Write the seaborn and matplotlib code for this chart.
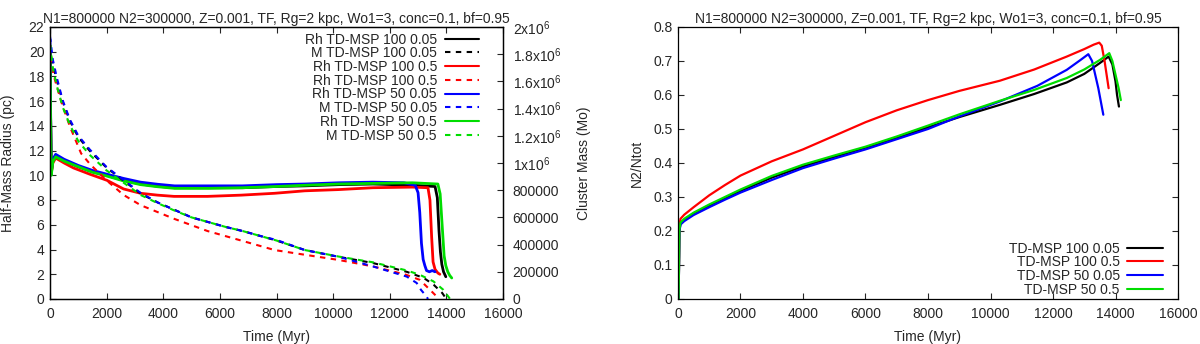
import numpy as np
import pandas as pd
import matplotlib
matplotlib.use("Agg")
import matplotlib.pyplot as plt
from matplotlib.lines import Line2D
import seaborn as sns

# ---------------- data ----------------
title = "N1=800000 N2=300000, Z=0.001, TF, Rg=2 kpc, Wo1=3, conc=0.1, bf=0.95"

# Half-mass radius (pc) vs time (Myr)
rh_t_100_005 = [0, 20, 45, 100, 200, 500, 1000, 1500, 2000, 2600, 3200, 3800, 4400, 5600, 6800, 8000, 9000, 10200, 11400, 12800, 13600, 13680, 13740, 13790, 13840, 13900, 13980]
rh_v_100_005 = [20.0, 15.0, 10.2, 11.2, 11.55, 11.2, 10.7, 10.3, 10.0, 9.6, 9.3, 9.12, 9.0, 9.0, 9.0, 9.1, 9.15, 9.25, 9.3, 9.2, 9.1, 8.2, 5.5, 3.8, 2.8, 2.2, 1.8]

rh_t_100_05 = [0, 20, 45, 100, 200, 500, 830, 1400, 2010, 2600, 3200, 3800, 4380, 5560, 6750, 7930, 9000, 10200, 11400, 12800, 13350, 13420, 13480, 13530, 13600, 13700, 13770]
rh_v_100_05 = [20.5, 15.0, 10.2, 11.0, 11.4, 11.0, 10.6, 10.1, 9.6, 8.9, 8.55, 8.4, 8.3, 8.3, 8.4, 8.55, 8.75, 8.85, 9.0, 9.05, 9.0, 8.0, 5.0, 3.0, 2.4, 2.1, 2.0]

rh_t_50_005 = [0, 20, 45, 100, 200, 500, 1000, 1500, 2000, 2600, 3200, 3800, 4400, 5600, 6800, 8000, 9000, 10200, 11400, 12500, 12900, 13000, 13060, 13120, 13180, 13240, 13300, 13400, 13500, 13600]
rh_v_50_005 = [21.0, 15.5, 10.3, 11.3, 11.7, 11.3, 10.8, 10.4, 10.1, 9.75, 9.45, 9.28, 9.15, 9.15, 9.15, 9.25, 9.3, 9.4, 9.45, 9.4, 9.2, 8.6, 7.0, 4.5, 3.2, 2.7, 2.3, 2.2, 2.3, 2.2]

rh_t_50_05 = [0, 20, 45, 100, 200, 500, 1000, 1500, 2000, 2600, 3200, 3800, 4400, 5600, 6800, 8000, 9000, 10200, 11400, 12800, 13700, 13780, 13850, 13920, 13980, 14050, 14120, 14190]
rh_v_50_05 = [20.5, 15.0, 10.0, 11.1, 11.5, 11.15, 10.7, 10.25, 9.95, 9.55, 9.25, 9.08, 8.95, 8.95, 9.0, 9.1, 9.2, 9.3, 9.35, 9.4, 9.3, 8.5, 6.0, 3.5, 2.7, 2.2, 1.9, 1.7]

# Cluster mass (Mo) vs time (Myr)
m_t_100_005 = [0, 100, 250, 450, 700, 1000, 1400, 2000, 2600, 3200, 3800, 4400, 5000, 5600, 6200, 6800, 7400, 8000, 9000, 10200, 11400, 12600, 13200, 13550, 13850, 14000]
m_v_100_005 = [1.85e6, 1.73e6, 1.60e6, 1.45e6, 1.31e6, 1.19e6, 1.09e6, 0.965e6, 0.87e6, 0.775e6, 0.71e6, 0.655e6, 0.60e6, 0.565e6, 0.53e6, 0.50e6, 0.465e6, 0.43e6, 0.36e6, 0.31e6, 0.265e6, 0.20e6, 0.155e6, 0.105e6, 0.045e6, 0.0]

m_t_100_05 = [0, 120, 400, 700, 1100, 1420, 2010, 2600, 3200, 4380, 5560, 6750, 7930, 9010, 10200, 11400, 12580, 13060, 13420, 13660, 13700]
m_v_100_05 = [1.86e6, 1.65e6, 1.45e6, 1.27e6, 1.07e6, 0.99e6, 0.87e6, 0.765e6, 0.69e6, 0.59e6, 0.50e6, 0.43e6, 0.36e6, 0.325e6, 0.287e6, 0.24e6, 0.178e6, 0.141e6, 0.068e6, 0.018e6, 0.0]

m_t_50_005 = [0, 100, 250, 450, 700, 1000, 1400, 2000, 2600, 3200, 3800, 4400, 5000, 5600, 6200, 6800, 7400, 8000, 9000, 10200, 11400, 12600, 12950, 13100, 13300, 13350]
m_v_50_005 = [1.93e6, 1.76e6, 1.62e6, 1.46e6, 1.32e6, 1.20e6, 1.10e6, 0.97e6, 0.875e6, 0.78e6, 0.71e6, 0.655e6, 0.60e6, 0.565e6, 0.53e6, 0.50e6, 0.465e6, 0.434e6, 0.36e6, 0.31e6, 0.24e6, 0.165e6, 0.118e6, 0.068e6, 0.018e6, 0.0]

m_t_50_05 = [0, 100, 250, 450, 700, 1000, 1400, 2000, 2600, 3200, 3800, 4400, 5000, 5600, 6200, 6800, 7400, 8000, 9000, 10200, 11400, 12600, 13060, 13540, 13890, 14130]
m_v_50_05 = [1.87e6, 1.70e6, 1.56e6, 1.41e6, 1.28e6, 1.16e6, 1.06e6, 0.945e6, 0.855e6, 0.765e6, 0.705e6, 0.65e6, 0.60e6, 0.565e6, 0.53e6, 0.50e6, 0.465e6, 0.43e6, 0.36e6, 0.312e6, 0.27e6, 0.21e6, 0.178e6, 0.13e6, 0.068e6, 0.0]

# N2/Ntot vs time (Myr)
f_t_100_005 = [20, 45, 80, 200, 500, 1000, 1500, 2000, 3000, 4000, 5000, 6000, 7000, 8000, 9000, 10300, 11400, 12440, 13000, 13500, 13780, 13900, 14000, 14050, 14110]
f_v_100_005 = [0.0, 0.2, 0.222, 0.232, 0.25, 0.273, 0.296, 0.318, 0.357, 0.39, 0.418, 0.445, 0.474, 0.505, 0.535, 0.571, 0.603, 0.637, 0.662, 0.694, 0.713, 0.69, 0.64, 0.60, 0.566]

f_t_100_05 = [20, 45, 80, 200, 500, 1000, 1500, 2000, 3000, 4000, 5000, 6000, 7000, 8000, 9000, 10300, 11400, 12440, 13000, 13300, 13480, 13560, 13650, 13780]
f_v_100_05 = [0.0, 0.215, 0.236, 0.248, 0.27, 0.305, 0.335, 0.363, 0.405, 0.44, 0.48, 0.52, 0.555, 0.585, 0.612, 0.642, 0.675, 0.713, 0.735, 0.748, 0.754, 0.745, 0.70, 0.62]

f_t_50_005 = [20, 45, 80, 200, 500, 1000, 1500, 2000, 3000, 4000, 5000, 6000, 7000, 8000, 9000, 10300, 11500, 12440, 12880, 13130, 13250, 13350, 13450, 13610]
f_v_50_005 = [0.0, 0.2, 0.219, 0.229, 0.247, 0.27, 0.292, 0.313, 0.35, 0.385, 0.413, 0.44, 0.47, 0.50, 0.537, 0.581, 0.627, 0.674, 0.703, 0.72, 0.70, 0.66, 0.62, 0.542]

f_t_50_05 = [20, 45, 80, 200, 500, 1000, 1500, 2000, 3000, 4000, 5000, 6000, 7000, 8000, 9000, 10300, 11400, 12440, 13000, 13500, 13800, 13900, 14000, 14100, 14170]
f_v_50_05 = [0.0, 0.205, 0.225, 0.236, 0.254, 0.278, 0.30, 0.322, 0.362, 0.395, 0.422, 0.448, 0.478, 0.51, 0.543, 0.583, 0.615, 0.65, 0.675, 0.703, 0.723, 0.70, 0.66, 0.62, 0.585]

rh_labels = ["Rh TD-MSP 100 0.05", "Rh TD-MSP 100 0.5", "Rh TD-MSP 50 0.05", "Rh TD-MSP 50 0.5"]
m_labels = ["M TD-MSP 100 0.05", "Rh TD-MSP 100 0.5", "M TD-MSP 50 0.05", "M TD-MSP 50 0.5"]
f_labels = ["TD-MSP 100 0.05", "TD-MSP 100 0.5", "TD-MSP 50 0.05", "TD-MSP 50 0.5"]
colors = ["#000000", "#ff0000", "#0000ff", "#00dd00"]

mass_ticks = [0, 200000, 400000, 600000, 800000, 1000000, 1200000, 1400000, 1600000, 1800000, 2000000]
mass_ticklabels = ["0", "200000", "400000", "600000", "800000", r"1x10$^6$", r"1.2x10$^6$",
                   r"1.4x10$^6$", r"1.6x10$^6$", r"1.8x10$^6$", r"2x10$^6$"]

# ---------------- style ----------------
sns.set_style("white")
plt.rcParams["font.family"] = ["Liberation Sans", "DejaVu Sans"]
plt.rcParams["mathtext.fontset"] = "custom"
plt.rcParams["mathtext.rm"] = "Liberation Sans"
plt.rcParams["mathtext.default"] = "rm"
FS = 10

fig = plt.figure(figsize=(12, 3.44), dpi=100)
W, H = 1200, 344
axL = fig.add_axes([50 / W, (H - 299) / H, (503 - 50) / W, (299 - 27) / H])
axR = fig.add_axes([678 / W, (H - 299) / H, (1178 - 678) / W, (299 - 27) / H])
axM = axL.twinx()

dash = (0, (2.6, 2.6))
LW = 1.5

rh_sets = [(rh_t_100_005, rh_v_100_005), (rh_t_100_05, rh_v_100_05),
           (rh_t_50_005, rh_v_50_005), (rh_t_50_05, rh_v_50_05)]
m_sets = [(m_t_100_005, m_v_100_005), (m_t_100_05, m_v_100_05),
          (m_t_50_005, m_v_50_005), (m_t_50_05, m_v_50_05)]
f_sets = [(f_t_100_005, f_v_100_005), (f_t_100_05, f_v_100_05),
          (f_t_50_005, f_v_50_005), (f_t_50_05, f_v_50_05)]

for (t, v), c in zip(m_sets, colors):
    df = pd.DataFrame({"t": t, "v": v})
    sns.lineplot(data=df, x="t", y="v", ax=axM, color=c, lw=LW, linestyle=dash,
                 estimator=None, sort=False, legend=False)
for (t, v), c in zip(rh_sets, colors):
    df = pd.DataFrame({"t": t, "v": v})
    sns.lineplot(data=df, x="t", y="v", ax=axL, color=c, lw=2.0,
                 estimator=None, sort=False, legend=False)
for (t, v), c in zip(f_sets, colors):
    df = pd.DataFrame({"t": t, "v": v})
    sns.lineplot(data=df, x="t", y="v", ax=axR, color=c, lw=1.6,
                 estimator=None, sort=False, legend=False)

# left axes
axL.set_xlim(0, 16000)
axL.set_ylim(0, 22)
axL.set_xticks(range(0, 16001, 2000))
axL.set_yticks(range(0, 23, 2))
axM.set_ylim(0, 2e6)
axM.set_yticks(mass_ticks)
axM.set_yticklabels(mass_ticklabels)
axL.set_xlabel("Time (Myr)", fontsize=FS, labelpad=6)
axL.set_ylabel("Half-Mass Radius (pc)", fontsize=FS)
axL.yaxis.set_label_coords((15 - 50) / 453, 0.5)
axM.set_ylabel("Cluster Mass (Mo)", fontsize=FS)
axM.yaxis.set_label_coords((577 - 50) / 453, 0.5)
axM.set_xlabel("")
axL.set_title(title, fontsize=FS, pad=3)

# right axes
axR.set_xlim(0, 16000)
axR.set_ylim(0, 0.8)
axR.set_xticks(range(0, 16001, 2000))
axR.set_yticks([0, 0.1, 0.2, 0.3, 0.4, 0.5, 0.6, 0.7, 0.8])
axR.set_yticklabels(["0", "0.1", "0.2", "0.3", "0.4", "0.5", "0.6", "0.7", "0.8"])
axR.set_xlabel("Time (Myr)", fontsize=FS, labelpad=6)
axR.set_ylabel("N2/Ntot", fontsize=FS)
axR.yaxis.set_label_coords((644 - 678) / 500, 0.5)
axR.set_title(title, fontsize=FS, pad=3)

for ax in (axL, axR, axM):
    for s in ax.spines.values():
        s.set_visible(True)
        s.set_color("black")
        s.set_linewidth(0.9)

axL.tick_params(axis="y", direction="in", length=4, width=0.8, labelsize=FS,
                right=False, left=True, pad=4)
axL.tick_params(axis="x", direction="in", length=4, width=0.8, labelsize=FS,
                top=True, bottom=True, pad=6)
axM.tick_params(axis="y", direction="in", length=4, width=0.8, labelsize=FS,
                right=True, left=False, pad=7)
axR.tick_params(axis="y", direction="in", length=4, width=0.8, labelsize=FS,
                right=True, left=True, pad=4)
axR.tick_params(axis="x", direction="in", length=4, width=0.8, labelsize=FS,
                top=True, bottom=True, pad=6)

# legends
handles = []
labels = []
for i in range(4):
    handles.append(Line2D([], [], color=colors[i], lw=1.5))
    labels.append(rh_labels[i])
    handles.append(Line2D([], [], color=colors[i], lw=1.5, linestyle=dash))
    labels.append(m_labels[i])
axM.legend(handles, labels, loc="upper right", bbox_to_anchor=(0.96, 1.0), frameon=False,
           markerfirst=False, fontsize=FS, handlelength=2.5, handletextpad=0.55,
           labelspacing=-0.02, borderaxespad=0.0)

fh = [Line2D([], [], color=c, lw=1.5) for c in colors]
axR.legend(fh, f_labels, loc="lower right", bbox_to_anchor=(0.982, -0.012), frameon=False,
           markerfirst=False, fontsize=FS, handlelength=2.6, handletextpad=0.55,
           labelspacing=-0.02, borderaxespad=0.0)

fig.savefig("out.png", dpi=100)
